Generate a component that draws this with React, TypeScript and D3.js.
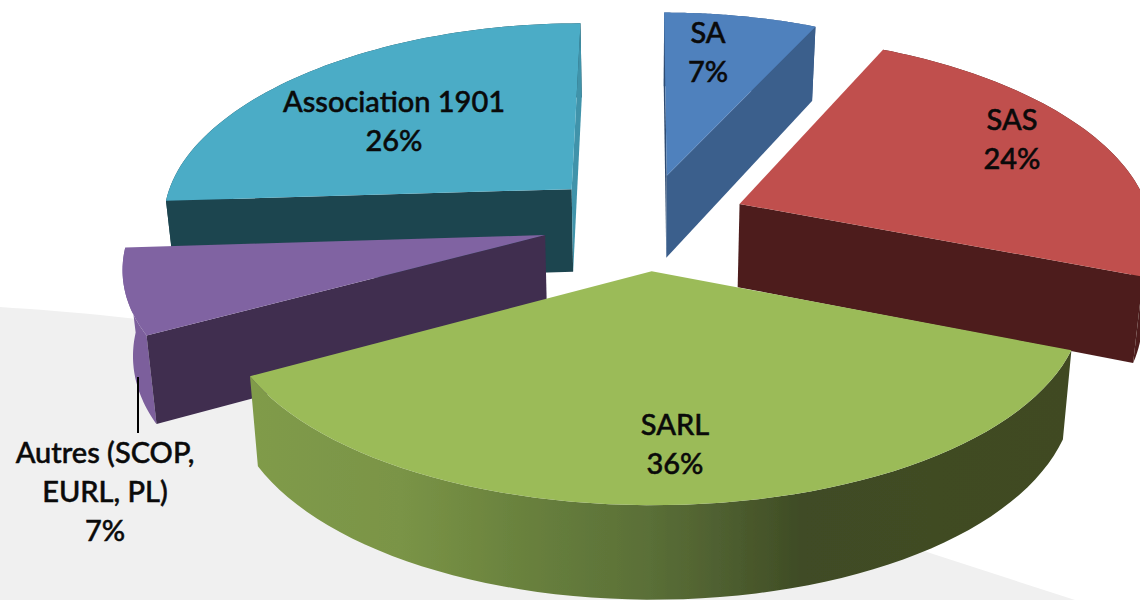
import React from 'react';
import * as d3 from 'd3';

const categories = ['SA', 'SAS', 'SARL', 'Autres (SCOP, EURL, PL)', 'Association 1901'];
const shares = [7, 24, 36, 7, 26];

// label lines, one list per slice
const labelLines = [['SA'], ['SAS'], ['SARL'], ['Autres (SCOP,', 'EURL, PL)'], ['Association 1901']];
const labelAnchors = [[708, 33], [1012, 120], [675, 425], [105, 453], [394, 102]];

// top, outer wall, and the two cut faces (null when the cut faces away from us)
const topColors = ['#4f81bd', '#c0504d', '#9bbb59', '#8064a2', '#4bacc6'];
const wallColors = ['#3a5e8c', '#4d1f1e', 'url(#sarlWall)', '#7c5f9c', '#1f444f'];
const startCutColors = ['#2f4c72', null, null, '#3f2d50', '#1f444f'];
const endCutColors = ['#3a5e8c', '#4d1f1e', null, null, '#3f93aa'];

const width = 1140;
const height = 600;
const cx = 645;
const cy = 221.5;
const rx = 412;
const ry = 193;
const perspX = 0.14;
const perspY = 0.12;
const explode = 0.25;
const depth = 84;
const bottomShrink = 0.98;

// unit disc -> screen, with a little perspective towards the viewer
function project(u: number, v: number, bottom: boolean): [number, number] {
  const x = cx + (rx * u * (bottom ? bottomShrink : 1)) / (1 - perspX * v);
  const y = cy + (ry * v) / (1 - perspY * v) + (bottom ? depth * (1 + 0.1 * v) : 0);
  return [x, y];
}

const pie = d3.pie<number>().sort(null).value((d) => d);
const slices = pie(shares);
const path = d3.line();

function App() {
  const faces = slices.map((d, i) => {
    const mid = (d.startAngle + d.endAngle) / 2;
    const ox = Math.sin(mid) * explode;
    const oy = -Math.cos(mid) * explode;
    const at = (a: number, r: number, bottom: boolean) =>
      project(ox + Math.sin(a) * r, oy - Math.cos(a) * r, bottom);

    const angles = d3.range(0, 61).map((k) => d.startAngle + ((d.endAngle - d.startAngle) * k) / 60);
    const topArc = angles.map((a) => at(a, 1, false));
    const bottomArc = angles.map((a) => at(a, 1, true));

    return {
      top: path([at(0, 0, false), ...topArc])! + 'Z',
      wall: path([...topArc, ...bottomArc.slice().reverse()])! + 'Z',
      endCut: path([at(0, 0, false), at(d.endAngle, 1, false), at(d.endAngle, 1, true), at(0, 0, true)])! + 'Z',
      startCut: path([at(0, 0, false), at(d.startAngle, 1, false), at(d.startAngle, 1, true), at(0, 0, true)])! + 'Z',
    };
  });

  // back to front
  const drawOrder = [4, 0, 1, 3, 2];

  return (
    <svg
      width={width}
      height={height}
      style={{ position: 'absolute', left: 0, top: 0, display: 'block' }}
    >
      <defs>
        <linearGradient id="sarlWall" gradientUnits="userSpaceOnUse" x1="253" y1="0" x2="1070" y2="0">
          <stop offset="0" stopColor="#809b4a" />
          <stop offset="0.18" stopColor="#7a9446" />
          <stop offset="0.34" stopColor="#68803d" />
          <stop offset="0.486" stopColor="#5a6f37" />
          <stop offset="0.57" stopColor="#4f6030" />
          <stop offset="0.67" stopColor="#3f4c25" />
          <stop offset="1" stopColor="#3f4a23" />
        </linearGradient>
        <filter id="soft" x="-5%" y="-5%" width="110%" height="110%">
          <feGaussianBlur stdDeviation="0.5" />
        </filter>
      </defs>

      <rect width={width} height={height} fill="#ffffff" />
      <path d="M0,307 C120,315 300,330 500,400 L930,553 L1075,600 L0,600 Z" fill="#f0f0f0" />

      <g filter="url(#soft)">
        {drawOrder.map((i) => (
          <g key={categories[i]}>
            <path d={faces[i].wall} fill={wallColors[i]} />
            {startCutColors[i] && <path d={faces[i].startCut} fill={startCutColors[i]!} />}
            {endCutColors[i] && <path d={faces[i].endCut} fill={endCutColors[i]!} />}
            <path d={faces[i].top} fill={topColors[i]} />
          </g>
        ))}
      </g>

      <line x1={138} y1={377} x2={138} y2={433} stroke="#000" strokeWidth={2} />

      <g
        fontFamily="Lato, 'Open Sans', sans-serif"
        fontSize={29}
        fontWeight={500}
        fill="#0a0a0a"
        textAnchor="middle"
        stroke="#0a0a0a"
        strokeWidth={0.5}
      >
        {slices.map((d, i) => {
          const [x, y] = labelAnchors[i];
          const lines = [...labelLines[i], `${shares[i]}%`];
          return lines.map((line, k) => (
            <text key={line} x={x} y={y + k * 39} dy="0.35em">
              {line}
            </text>
          ));
        })}
      </g>
    </svg>
  );
}

export default App;
